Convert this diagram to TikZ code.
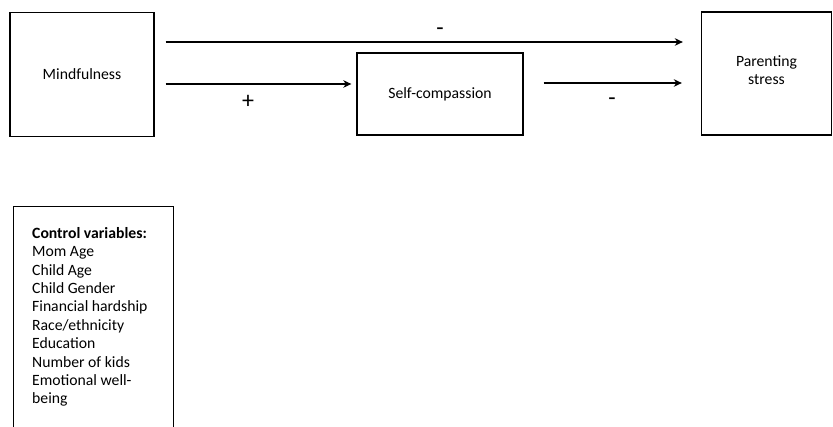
\documentclass[tikz,border=0pt]{standalone}
\usepackage{fontspec}
\setmainfont{Carlito}
\usetikzlibrary{arrows.meta}
\begin{document}
\begin{tikzpicture}[x=1pt,y=-1pt,
  box/.style={draw, line width=1.3pt, inner sep=0pt, align=center,
    font=\fontsize{15.7}{18}\selectfont},
  arr/.style={line width=1.7pt, -{Stealth[length=8pt,width=7.5pt,inset=2.5pt]}},
  sign/.style={inner sep=0pt, font=\fontsize{24}{26}\selectfont},
  txt/.style={inner sep=0pt, align=center, font=\fontsize{15.7}{18}\selectfont}]
\useasboundingbox (0,0) rectangle (833,427);
\clip (0,0) rectangle (833,427);

% main variables
\node[box, minimum width=144pt, minimum height=124pt] (m) at (82,74.5) {Mindfulness};
\node[box, minimum width=130pt, minimum height=123pt] (p) at (766.5,73.5) {};
\node[txt] (pt) at (766.5,70) {Parenting\\stress};
\node[box, minimum width=166pt, minimum height=82pt] (s) at (440,94) {Self-compassion};

% control variables
\node[box, minimum width=160pt, minimum height=240pt, anchor=north west] (c) at (13,206) {};
\node[anchor=north west, inner sep=0pt, align=left,
  font=\fontsize{15.7}{18.4}\selectfont] (cv) at (32,227)
  {\textbf{Control variables:}\\Mom Age\\Child Age\\Child Gender\\Financial hardship\\Race/ethnicity\\Education\\Number of kids\\Emotional well-\\being};

% path rows
\coordinate (r1) at (0,42);
\coordinate (r2) at (0,84);
\coordinate (r3) at (0,83);

\draw[arr, shorten <=11pt, shorten >=18pt] (m.east |- r1) -- (p.west |- r1);
\draw[arr, shorten <=11pt, shorten >=5pt] (m.east |- r2) -- (s.west |- r2);
\draw[arr, shorten <=20pt, shorten >=19pt] (s.east |- r3) -- (p.west |- r3);

% signs of the effects
\node[sign] (n1) at (440,32) {-};
\node[sign] (n2) at (248,102) {+};
\node[sign] (n3) at (612,102) {-};
\end{tikzpicture}
\end{document}
